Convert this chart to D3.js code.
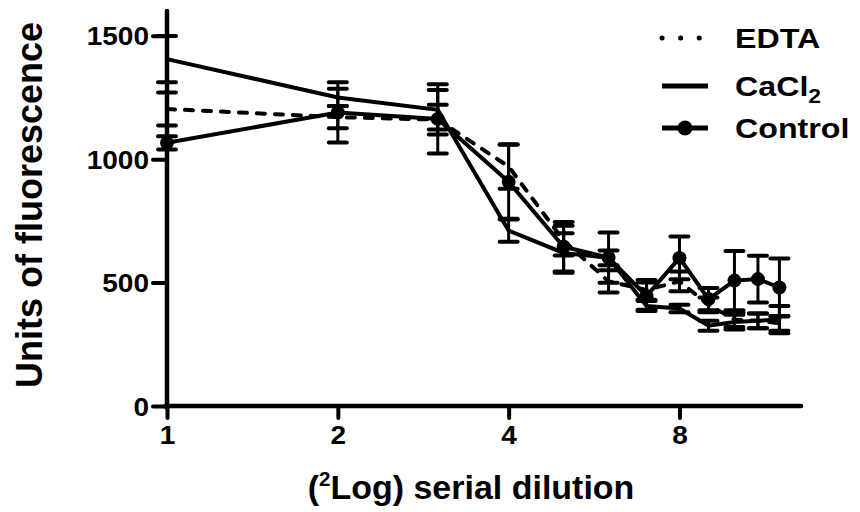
<!DOCTYPE html>
<html>
<head>
<meta charset="utf-8">
<script src="https://cdnjs.cloudflare.com/ajax/libs/d3/7.8.5/d3.min.js"></script>
<style>
  body { margin: 0; background: #fff; }
  text { font-family: Arial, "Liberation Sans", sans-serif; font-weight: bold; fill: #000; }
</style>
</head>
<body>
<svg id="chart" width="860" height="512"></svg>
<script>
// dilution steps (x values) and tick labels
const dilutions = [1, 2, 3, 4, 5, 6, 7, 8, 9, 10, 11, 12];
const xTicks = [1, 2, 4, 8];
const yTicks = [0, 500, 1000, 1500];

// series means and error (SEM)
const edta      = [1203, 1170, 1160, 970, 670, 505, 470, 505, 410, 350, 345, 335];
const edtaErr   = [67, 45, 60, 90, 60, 45, 40, 40, 30, 30, 30, 30];
const cacl2     = [1405, 1250, 1200, 710, 620, 600, 405, 395, 325, 340, 345, 350];
const cacl2Err  = [94, 35, 80, 45, 80, 30, 20, 15, 20, 30, 30, 55];
const control   = [1066, 1189, 1163, 908, 645, 601, 445, 600, 433, 508, 514, 480];
const controlErr= [27, 122, 140, 150, 100, 102, 55, 87, 45, 120, 95, 117];

const svg = d3.select("#chart");

const x = d3.scaleLog().base(2)
  .domain([1, 13.1])
  .range([167, 801]);

const y = d3.scaleLinear()
  .domain([0, 1600])
  .range([406, 11]);

const series = [
  {name: "EDTA", vals: edta, err: edtaErr, dash: "8,10", dot: false},
  {name: "CaCl2", vals: cacl2, err: cacl2Err, dash: null, dot: false},
  {name: "Control", vals: control, err: controlErr, dash: null, dot: true}
];

// --- axes ---
const yAxis = svg.append("g")
  .attr("transform", "translate(167,0)")
  .call(d3.axisLeft(y).tickValues(yTicks).tickSize(14).tickPadding(4).tickFormat(d3.format("d")));

const xAxis = svg.append("g")
  .attr("transform", "translate(0,406)")
  .call(d3.axisBottom(x).tickValues(xTicks).tickSize(12).tickPadding(6).tickFormat(d3.format("d")));

[yAxis, xAxis].forEach(ax => {
  ax.select(".domain").remove();
  ax.selectAll(".tick line").attr("stroke", "#000").attr("stroke-width", 4).attr("stroke-linecap", "round");
  ax.selectAll(".tick text").attr("font-size", null).style("font-size", "25px");
});

// squeeze/stretch labels a bit, the reference font is wider
yAxis.selectAll(".tick text")
  .attr("x", null)
  .attr("dy", null)
  .attr("transform", "translate(-18,9) scale(1.12,1)");
xAxis.selectAll(".tick text")
  .attr("y", null)
  .attr("dy", null)
  .attr("transform", "translate(0,38) scale(1.12,1)");

// axis lines
svg.append("line")
  .attr("x1", 167).attr("x2", 167).attr("y1", y(0) + 2).attr("y2", y(1600))
  .attr("stroke", "#000").attr("stroke-width", 4.5).attr("stroke-linecap", "round");
svg.append("line")
  .attr("x1", 165).attr("x2", x(13.1)).attr("y1", y(0)).attr("y2", y(0))
  .attr("stroke", "#000").attr("stroke-width", 4.5).attr("stroke-linecap", "round");

// --- error bars ---
series.forEach(s => {
  const g = svg.append("g");
  const pts = dilutions.map((d, i) => ({x: d, v: s.vals[i], e: s.err[i]}));
  g.selectAll("line.bar").data(pts).enter().append("line")
    .attr("x1", d => x(d.x)).attr("x2", d => x(d.x))
    .attr("y1", d => y(d.v + d.e)).attr("y2", d => y(d.v - d.e))
    .attr("stroke", "#000").attr("stroke-width", 3);
  [1, -1].forEach(sign => {
    g.selectAll("line.cap" + sign).data(pts).enter().append("line")
      .attr("x1", d => x(d.x) - 9).attr("x2", d => x(d.x) + 9)
      .attr("y1", d => y(d.v + sign * d.e)).attr("y2", d => y(d.v + sign * d.e))
      .attr("stroke", "#000").attr("stroke-width", 4).attr("stroke-linecap", "round");
  });
});

// --- lines ---
const line = d3.line().x((d, i) => x(dilutions[i])).y(d => y(d));
series.forEach(s => {
  svg.append("path")
    .datum(s.vals)
    .attr("d", line)
    .attr("fill", "none")
    .attr("stroke", "#000")
    .attr("stroke-width", 4)
    .attr("stroke-linecap", "round")
    .attr("stroke-dasharray", s.dash);
  if (s.dot) {
    svg.selectAll(null).data(s.vals).enter().append("circle")
      .attr("cx", (d, i) => x(dilutions[i]))
      .attr("cy", d => y(d))
      .attr("r", 7)
      .attr("fill", "#000");
  }
});

// --- legend ---
const legend = svg.append("g").attr("transform", "translate(662,0)");
const legendRows = [38, 86, 128];
legendRows.forEach((ly, i) => {
  const s = series[i];
  legend.append("line")
    .attr("x1", 0).attr("x2", 46).attr("y1", ly).attr("y2", ly)
    .attr("stroke", "#000")
    .attr("stroke-width", 5)
    .attr("stroke-linecap", i === 0 ? "round" : "butt")
    .attr("stroke-dasharray", i === 0 ? "0.1,18.5" : null);
  if (s.dot) legend.append("circle").attr("cx", 23).attr("cy", ly).attr("r", 7.5).attr("fill", "#000");
  const t = legend.append("text")
    .attr("transform", `translate(73,${ly + 10}) scale(1.15,1)`)
    .style("font-size", "28px");
  if (s.name === "CaCl2") {
    t.append("tspan").text("CaCl");
    t.append("tspan").text("2").attr("dy", 7).style("font-size", "20px");
  } else {
    t.text(s.name);
  }
});

// --- axis titles ---
const xt = svg.append("text")
  .attr("transform", "translate(471,499) scale(1.03,1)")
  .attr("text-anchor", "middle")
  .style("font-size", "33px");
xt.append("tspan").text("(");
xt.append("tspan").text("2").attr("dy", -13).style("font-size", "20px");
xt.append("tspan").text("Log) serial dilution").attr("dy", 13);

svg.append("text")
  .attr("transform", "translate(42,205) rotate(-90)")
  .attr("text-anchor", "middle")
  .style("font-size", "36px")
  .text("Units of fluorescence");
</script>
</body>
</html>
